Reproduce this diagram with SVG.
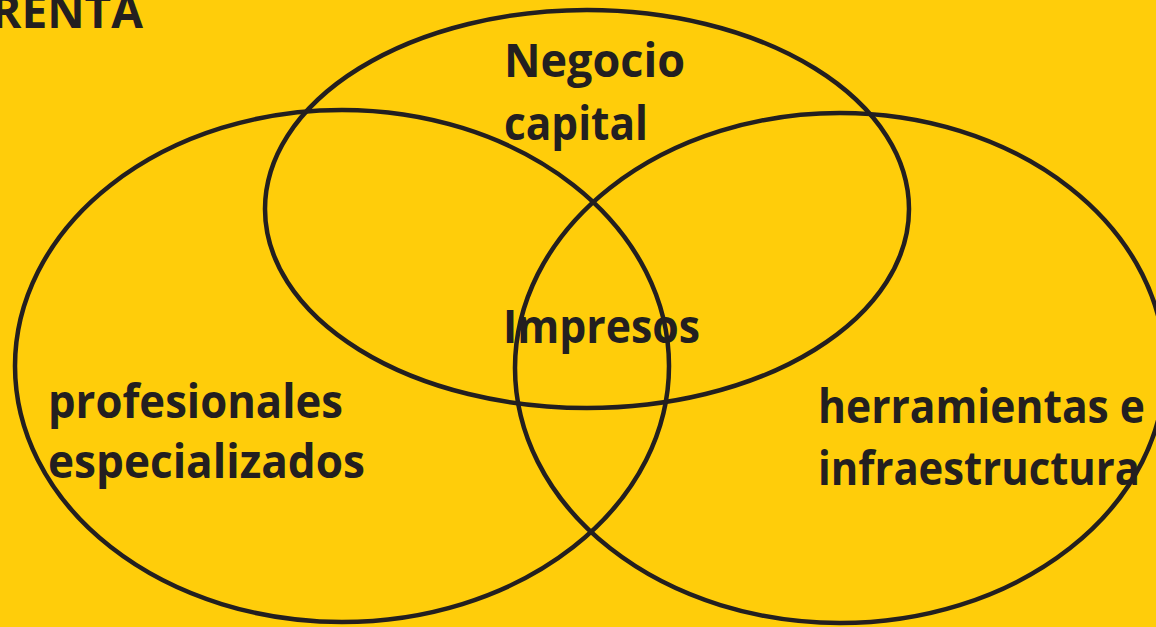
<svg xmlns="http://www.w3.org/2000/svg" width="1156" height="627" viewBox="0 0 1156 627">
<style>
.bg{fill:#FFCD0A}
.ring{fill:none;stroke:#231F20;stroke-width:4.5}
.t{font-family:"Open Sans","DejaVu Sans",sans-serif;font-weight:bold;font-size:46px;fill:#231F20}
</style>
<rect class="bg" x="0" y="0" width="1156" height="627"/>
<g id="title"><text class="t" x="143" y="28" text-anchor="end">RENTA</text></g>
<g id="connectors"></g>
<g id="negocio">
<ellipse class="ring" cx="587" cy="209" rx="322" ry="199"/>
<text class="t" x="504" y="77" textLength="181" lengthAdjust="spacingAndGlyphs">Negocio</text>
<text class="t" x="504" y="140" textLength="144" lengthAdjust="spacingAndGlyphs">capital</text>
</g>
<g id="profesionales">
<ellipse class="ring" cx="342" cy="366" rx="327" ry="256"/>
<text class="t" x="48" y="418" textLength="295" lengthAdjust="spacingAndGlyphs">profesionales</text>
<text class="t" x="48" y="478" textLength="317" lengthAdjust="spacingAndGlyphs">especializados</text>
</g>
<g id="herramientas">
<ellipse class="ring" cx="840" cy="368" rx="325" ry="255"/>
<text class="t" x="818" y="423" textLength="327" lengthAdjust="spacingAndGlyphs">herramientas e</text>
<text class="t" x="818" y="485" textLength="322" lengthAdjust="spacingAndGlyphs">infraestructura</text>
</g>
<g id="impresos"><text class="t" x="503" y="343" textLength="197" lengthAdjust="spacingAndGlyphs">Impresos</text></g>
</svg>
